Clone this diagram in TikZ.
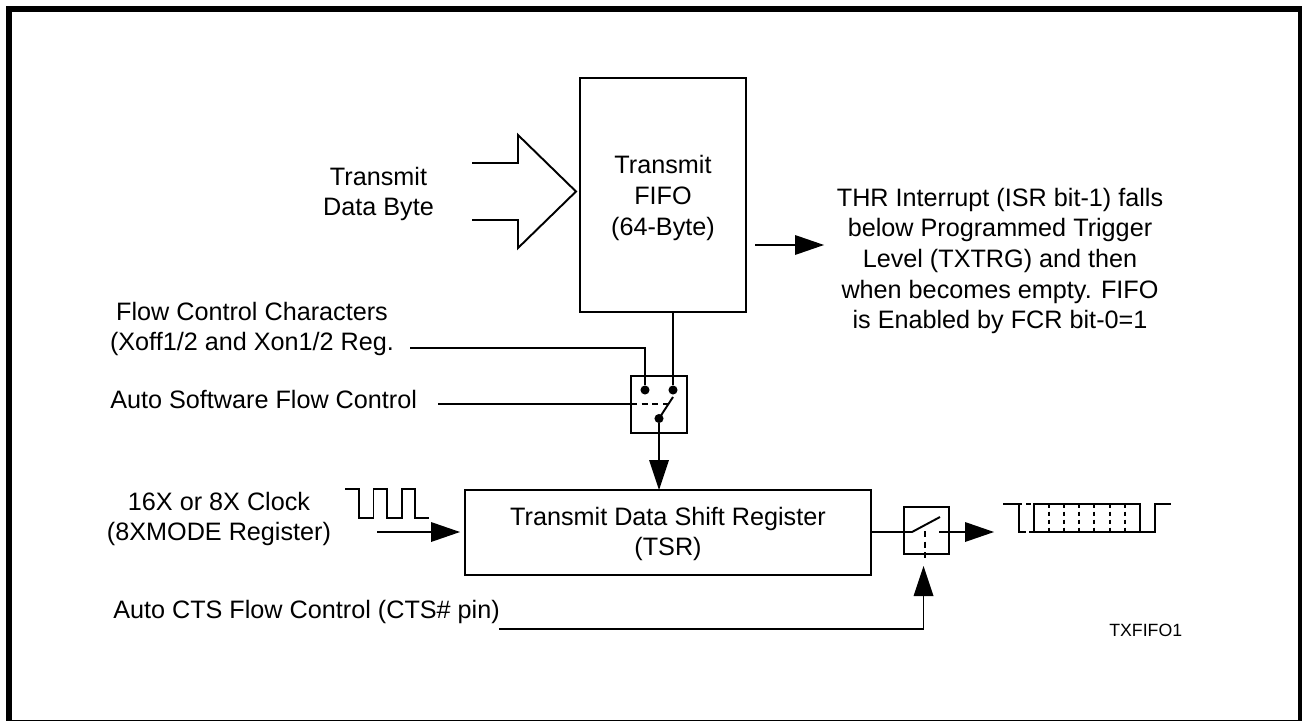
\documentclass[tikz,border=0pt]{standalone}
\usepackage{fontspec}
\usetikzlibrary{calc}
\setmainfont{Liberation Sans}
\tikzset{
  ln/.style={line width=1.45pt,line cap=butt},
  dsh/.style={line width=1.45pt,dash pattern=on 4.5pt off 3.5pt},
  lbl/.style={inner sep=0pt,align=center,font=\fontsize{18.9pt}{22.9pt}\selectfont},
  lbll/.style={inner sep=0pt,anchor=base west,font=\fontsize{18.9pt}{22.9pt}\selectfont},
  box/.style={draw,line width=1.45pt,inner sep=0pt},
  dot/.style={circle,fill,inner sep=0pt,minimum size=6.8pt},
  tip/.style={fill=black,draw=none}
}
\begin{document}
\begin{tikzpicture}[x=0.75pt,y=-0.75pt]
\useasboundingbox (0,0) rectangle (1302,721);
\fill (6,6) rectangle (1302,721);
\fill[white] (12,12) rectangle (1298,720);
% FIFO
\node[box,minimum width=124.5pt,minimum height=175.5pt] (fifo) at (663,195) {};
\node[lbl] (fifot) at (663,198) {Transmit\\FIFO\\(64-Byte)};
% big arrow
\coordinate (a1) at (472,163);\coordinate (a2) at (518,163);\coordinate (a3) at (518,135);
\coordinate (a4) at (576,191.5);\coordinate (a5) at (518,248);\coordinate (a6) at (518,220);\coordinate (a7) at (472,220);
\draw[ln] (a1) -- (a2) -- (a3) -- (a4) -- (a5) -- (a6) -- (a7);
\node[lbl] (tdb) at (378.5,194) {Transmit\\Data Byte};
% FIFO out
\coordinate (o1) at (755,245);\coordinate (o2) at (795,245);\coordinate (o3) at (824,245);
\draw[ln] (o1) -- (o2);
\fill[tip] ($(o2)+(0,-10)$) -- (o3) -- ($(o2)+(0,10)$) -- cycle;
\node[lbl] (thr) at (1000,261) {THR Interrupt (ISR bit-1) falls\\below Programmed Trigger\\Level (TXTRG) and then\\when becomes empty. FIFO\\is Enabled by FCR bit-0=1};
% switch 1
\node[box,minimum width=42pt,minimum height=42.75pt] (sw1) at (659,404.5) {};
\node[dot] (d1) at (645,390) {};
\node[dot] (d2) at (673,390) {};
\node[dot] (d3) at (659,418.5) {};
\coordinate (f1) at (673,312);
\draw[ln] (f1) -- (d2);
\coordinate (x1) at (410,348);\coordinate (x2) at (645,348);
\draw[ln] (x1) -- (x2) -- (d1);
\coordinate (s1) at (438,404);\coordinate (s2) at (631,404);\coordinate (s3) at (668,404);
\draw[ln] (s1) -- (s2);
\draw[dsh] (s2) -- (s3);
\draw[ln] (d3.center) -- (673,397);
\node[lbl] (flow) at (252,329) {Flow Control Characters\\(Xoff1/2 and Xon1/2 Reg.};
\node[lbll] (asw) at (110,408) {Auto Software Flow Control};
% register
\node[box,minimum width=304.5pt,minimum height=63.75pt] (tsr) at (668,532.5) {};
\node[lbl] (tsrt) at (668,534) {Transmit Data Shift Register\\(TSR)};
\coordinate (d4) at (659,460);\coordinate (d5) at (659,490);
\draw[ln] (d3) -- (d4);
\fill[tip] ($(d4)+(-10,0)$) -- (d5) -- ($(d4)+(10,0)$) -- cycle;
% clock
\draw[ln] (345,489) -- (359,489) -- (359,518) -- (373.5,518) -- (373.5,489) -- (387,489) -- (387,518) -- (402,518) -- (402,489) -- (415,489) -- (415,518) -- (429,518);
\coordinate (c1) at (377,532);\coordinate (c2) at (431,532);\coordinate (c3) at (460,532);
\draw[ln] (c1) -- (c2);
\fill[tip] ($(c2)+(0,-10)$) -- (c3) -- ($(c2)+(0,10)$) -- cycle;
\node[lbl] (clk) at (219,519) {16X or 8X Clock\\(8XMODE Register)};
% switch 2
\node[box,minimum width=33.75pt,minimum height=35.25pt] (sw2) at (926.5,530.5) {};
\coordinate (r1) at (871,532);\coordinate (r2) at (912,532);\coordinate (r3) at (940,517);
\draw[ln] (r1) -- (r2) -- (r3);
\coordinate (r4) at (939,532);\coordinate (r5) at (965,532);\coordinate (r6) at (994,532);
\draw[ln] (r4) -- (r5);
\fill[tip] ($(r5)+(0,-10)$) -- (r6) -- ($(r5)+(0,10)$) -- cycle;
\coordinate (v1) at (925,531);\coordinate (v2) at (925,562);
\draw[dsh] (v1) -- (v2);
\coordinate (u1) at (923.5,596);\coordinate (u2) at (923.5,566);\coordinate (u3) at (923.5,629);\coordinate (u4) at (499,629);
\draw[ln] (u4) -- (u3) -- (u1);
\fill[tip] ($(u1)+(-10,0)$) -- (u2) -- ($(u1)+(10,0)$) -- cycle;
\node[lbll] (cts) at (113,618) {Auto CTS Flow Control (CTS\# pin)};
% waveform
\draw[ln] (1003,503.7) -- (1022,503.7);
\draw[ln] (1019,503.7) -- (1019,531.7) -- (1026,531.7);
\draw[ln] (1026,503.7) -- (1031,503.7);
\draw[ln] (1029,531.7) -- (1034,531.7);
\draw[ln] (1034,503.7) -- (1140,503.7) -- (1140,531.7) -- (1034,531.7) -- cycle;
\draw[ln] (1140,531.7) -- (1155,531.7) -- (1155,503.7) -- (1171,503.7);
\foreach \wx in {1049,1064,1079,1094,1110,1125}{\draw[dsh,dash pattern=on 3.5pt off 2.5pt] (\wx,503.7) -- (\wx,531.7);}
\node[inner sep=0pt,anchor=base west,font=\fontsize{13.3pt}{15pt}\selectfont] (txf) at (1109,636) {TXFIFO1};
\end{tikzpicture}
\end{document}
